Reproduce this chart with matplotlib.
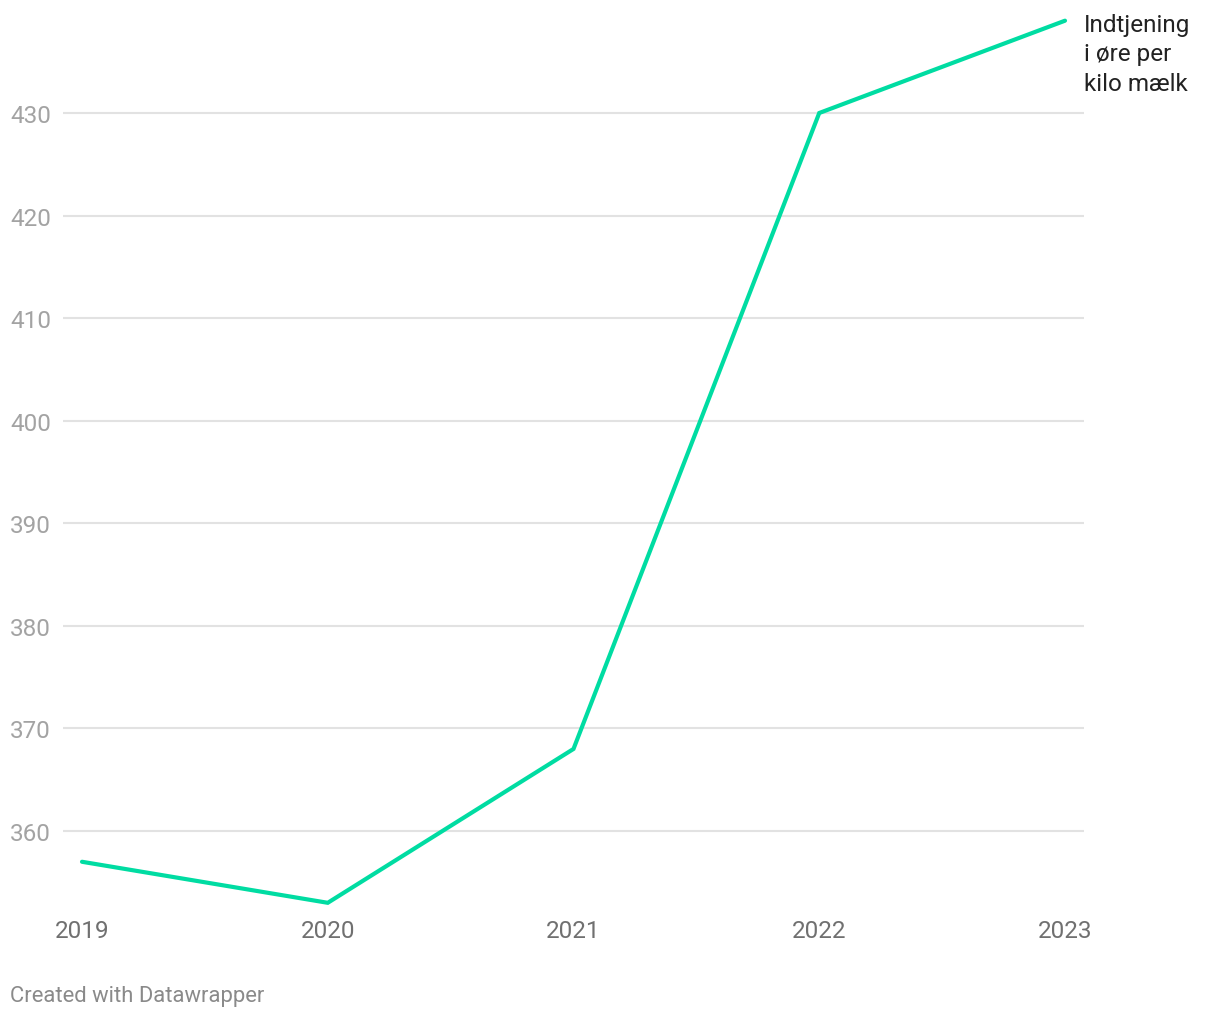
import matplotlib.pyplot as plt
import numpy as np

plt.rcParams['font.family'] = ['Roboto', 'DejaVu Sans']

years = [2019, 2020, 2021, 2022, 2023]
values = [357, 353, 368, 430, 439]
yticks = [360, 370, 380, 390, 400, 410, 420, 430]
label = "Indtjening\ni øre per\nkilo mælk"

W, H = 1220, 1020
fig = plt.figure(figsize=(W / 100, H / 100), dpi=100)
left, right, top, bottom = 63, 1084, 10, 910
ax = fig.add_axes([left / W, 1 - bottom / H, (right - left) / W, (bottom - top) / H])

ax.plot(years, values, color='#00dca2', lw=3, solid_capstyle='round', solid_joinstyle='miter', zorder=3)

px_per_year = (1065 - 82) / 4
ax.set_xlim(2019 - 19 / px_per_year, 2023 + 19 / px_per_year)
px_per_unit = (832 - 114) / 70
ax.set_ylim(360 - (bottom - 832) / px_per_unit, 430 + (114 - top) / px_per_unit)

ax.set_yticks(yticks)
ax.set_yticklabels([str(t) for t in yticks])
ax.grid(axis='y', color='#e2e2e2', lw=1.5)
ax.set_xticks(years)
ax.set_xticklabels([str(y) for y in years])
for s in ax.spines.values():
    s.set_visible(False)
ax.tick_params(axis='both', length=0)
ax.tick_params(axis='y', labelsize=17.5, labelcolor='#a3a3a3', pad=(left - 10) * 0.72)
for t in ax.get_yticklabels():
    t.set_horizontalalignment('left')
ax.tick_params(axis='x', labelsize=17.5, labelcolor='#707070', pad=7)

# label next to the line end
fig.text(1084 / W, 1 - 14 / H, label, ha='left', va='top',
         fontsize=17.5, color='#222222', linespacing=1.36)
fig.text(10 / W, 1 - 997 / H, "Created with Datawrapper", ha='left', va='center',
         fontsize=15.8, color='#8a8a8a')

fig.savefig('out.png', dpi=100)
